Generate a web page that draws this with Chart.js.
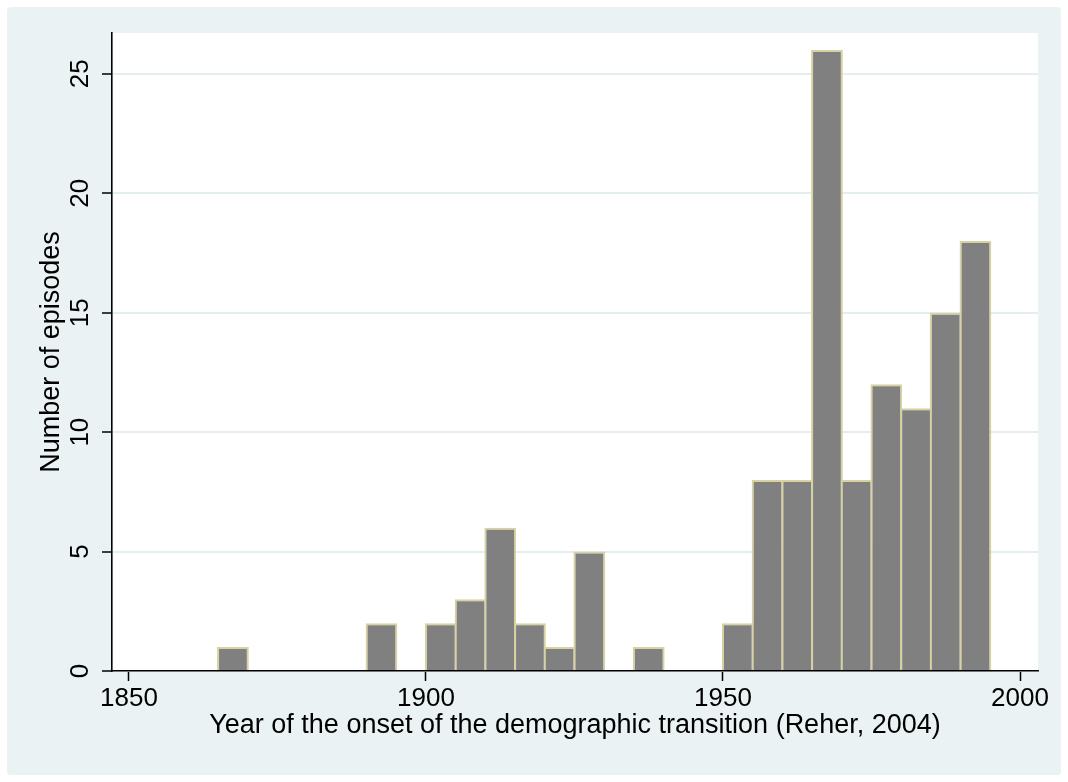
<!DOCTYPE html>
<html>
<head>
<meta charset="utf-8">
<script src="https://cdn.jsdelivr.net/npm/chart.js"></script>
<style>
  html, body { margin: 0; padding: 0; background: #fff; }
  #wrap { width: 1068px; height: 782px; }
</style>
</head>
<body>
<div id="wrap"><canvas id="histChart" width="1068" height="782"></canvas></div>
<script>
// 5-year bins, 1865-1995 (bin midpoints)
const binMids = [1867.5, 1872.5, 1877.5, 1882.5, 1887.5, 1892.5, 1897.5, 1902.5, 1907.5,
                 1912.5, 1917.5, 1922.5, 1927.5, 1932.5, 1937.5, 1942.5, 1947.5, 1952.5,
                 1957.5, 1962.5, 1967.5, 1972.5, 1977.5, 1982.5, 1987.5, 1992.5];
// number of episodes per bin
const episodes = [1, 0, 0, 0, 0, 2, 0, 2, 3,
                  6, 2, 1, 5, 0, 1, 0, 0, 2,
                  8, 8, 26, 8, 12, 11, 15, 18];
const xTicks = [1850, 1900, 1950, 2000];
const yTicks = [0, 5, 10, 15, 20, 25];

const FONT = '"Liberation Sans", Arial, Helvetica, sans-serif';
const PANEL = '#EAF2F3';

// fond du graphique (panneau gris-bleu + zone blanche)
const bgPlugin = {
    id: 'bgPanel',
    beforeDraw(chart) {
        const { ctx, chartArea } = chart;
        ctx.save();
        ctx.fillStyle = '#fff';
        ctx.fillRect(0, 0, chart.width, chart.height);
        ctx.fillStyle = PANEL;
        ctx.beginPath();
        ctx.roundRect(7, 7, 1054, 768, 4);
        ctx.fill();
        ctx.fillStyle = '#fff';
        ctx.fillRect(chartArea.left, chartArea.top,
            chartArea.right - chartArea.left, chartArea.bottom - chartArea.top);
        ctx.restore();
    }
};

// y tick labels, rotated like Stata
const yLabelPlugin = {
    id: 'yLabels',
    afterDraw(chart) {
        const { ctx } = chart;
        const y = chart.scales.y;
        ctx.save();
        ctx.font = '26px ' + FONT;
        ctx.fillStyle = '#000';
        ctx.textAlign = 'center';
        ctx.textBaseline = 'alphabetic';
        yTicks.forEach(v => {
            ctx.save();
            ctx.translate(88, y.getPixelForValue(v));
            ctx.rotate(-Math.PI / 2);
            ctx.fillText(String(v), 0, 0);
            ctx.restore();
        });
        ctx.restore();
    }
};

const histData = binMids.map((m, i) => ({ x: m, y: episodes[i] > 0 ? episodes[i] : null }));

new Chart(document.getElementById('histChart').getContext('2d'), {
    type: 'bar',
    data: {
        datasets: [{
            data: histData,
            backgroundColor: '#808080',
            borderColor: '#D7D29F',
            borderWidth: 2,
            borderSkipped: 'start',
            barPercentage: 1.07,
            categoryPercentage: 1
        }]
    },
    options: {
        responsive: false,
        animation: false,
        layout: { padding: { top: 33, right: 30, left: 0, bottom: 0 } },
        plugins: { legend: { display: false }, tooltip: { enabled: false } },
        scales: {
            x: {
                type: 'linear',
                offset: false,
                min: 1847.14,
                max: 2003.03,
                afterBuildTicks: s => { s.ticks = xTicks.map(v => ({ value: v })); },
                afterFit: s => { s.height = 111; s.paddingLeft = 0; s.paddingRight = 0; },
                grid: { offset: false, drawOnChartArea: false, tickLength: 10, tickColor: '#000', tickWidth: 1.5 },
                border: { color: '#000', width: 1.6 },
                ticks: {
                    font: { family: FONT, size: 26 }, color: '#000', padding: 2, maxRotation: 0,
                    callback: v => String(v)
                },
                title: {
                    display: true,
                    text: 'Year of the onset of the demographic transition (Reher, 2004)',
                    font: { family: FONT, size: 27 },
                    color: '#000',
                    padding: { top: 0, bottom: 40 }
                }
            },
            y: {
                min: 0,
                max: 26.71,
                afterBuildTicks: s => { s.ticks = yTicks.map(v => ({ value: v })); },
                afterFit: s => { s.width = 112; s.paddingTop = 0; s.paddingBottom = 0; },
                grid: { color: '#E4EDF0', lineWidth: 2, tickLength: 10, tickColor: '#000', tickWidth: 1.5 },
                border: { color: '#000', width: 1.6 },
                ticks: { display: false },
                title: {
                    display: true,
                    text: 'Number of episodes',
                    font: { family: FONT, size: 27 },
                    color: '#000',
                    padding: { top: 35, bottom: 0 }
                }
            }
        }
    },
    plugins: [bgPlugin, yLabelPlugin]
});
</script>
</body>
</html>
